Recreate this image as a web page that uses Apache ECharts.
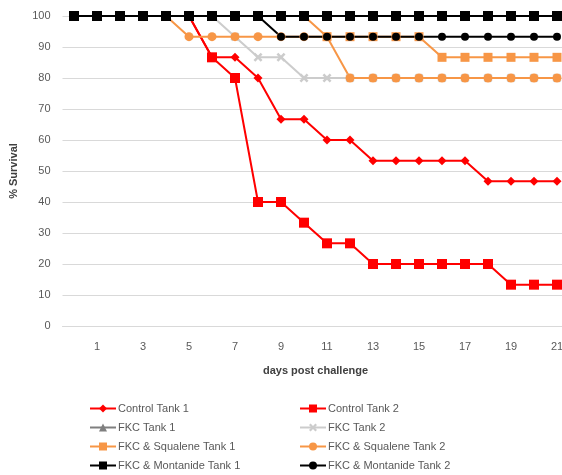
<!DOCTYPE html>
<html>
<head>
<meta charset="utf-8">
<script src="https://cdn.jsdelivr.net/npm/echarts@6/dist/echarts.min.js"></script>
<style>html,body{margin:0;padding:0;background:#fff}#c{width:562px;height:475px}</style>
</head>
<body>
<div id="c"></div>
<script>
const days = ['0','1','2','3','4','5','6','7','8','9','10','11','12','13','14','15','16','17','18','19','20','21'];
const yTicks = [0,10,20,30,40,50,60,70,80,90,100];
const controlTank1 = [100,100,100,100,100,100,86.67,86.67,80,66.67,66.67,60,60,53.33,53.33,53.33,53.33,53.33,46.67,46.67,46.67,46.67];
const controlTank2 = [100,100,100,100,100,100,86.67,80,40,40,33.33,26.67,26.67,20,20,20,20,20,20,13.33,13.33,13.33];
const fkcTank1 = [100,100,100,100,100,100,100,100,100,100,100,100,100,100,100,100,100,100,100,100,100,100];
const fkcTank2 = [100,100,100,100,100,100,100,93.33,86.67,86.67,80,80,80,80,80,80,80,80,80,80,80,80];
const squaleneTank1 = [100,100,100,100,100,100,100,100,100,100,100,93.33,93.33,93.33,93.33,93.33,86.67,86.67,86.67,86.67,86.67,86.67];
const squaleneTank2 = [100,100,100,100,100,93.33,93.33,93.33,93.33,93.33,93.33,93.33,80,80,80,80,80,80,80,80,80,80];
const montanideTank1 = [100,100,100,100,100,100,100,100,100,100,100,100,100,100,100,100,100,100,100,100,100,100];
const montanideTank2 = [100,100,100,100,100,100,100,100,100,93.33,93.33,93.33,93.33,93.33,93.33,93.33,93.33,93.33,93.33,93.33,93.33,93.33];
const names = ['Control Tank 1','Control Tank 2','FKC Tank 1','FKC Tank 2','FKC & Squalene Tank 1','FKC & Squalene Tank 2','FKC & Montanide Tank 1','FKC & Montanide Tank 2'];

const diamond = 'path://M5,0 L10,5 L5,10 L0,5 Z';
const cross = 'path://M0,2 L2,0 L5,3 L8,0 L10,2 L7,5 L10,8 L8,10 L5,7 L2,10 L0,8 L3,5 Z';
function mk(name, data, color, symbol, size) {
  return {
    name: name, type: 'line', data: data,
    symbol: symbol, symbolSize: size, showAllSymbol: true,
    lineStyle: { color: color, width: 2 },
    itemStyle: { color: color, borderWidth: 0 },
    emphasis: { disabled: true }
  };
}
const font = 'Liberation Sans';
const chart = echarts.init(document.getElementById('c'), null, { renderer: 'canvas' });
chart.setOption({
  animation: false,
  backgroundColor: '#ffffff',
  grid: { left: 62.5, right: -6.5, top: 16, bottom: 149, containLabel: false, outerBoundsMode: 'none' },
  xAxis: {
    type: 'category', data: days, boundaryGap: true,
    name: 'days post challenge', nameLocation: 'middle', nameGap: 39,
    nameTextStyle: { fontFamily: font, fontSize: 11, fontWeight: 'bold', color: '#404040' },
    axisLine: { show: true, lineStyle: { color: '#d9d9d9', width: 1 } },
    axisTick: { show: false },
    axisLabel: { interval: function (i) { return i % 2 === 1; }, margin: 15, fontFamily: font, fontSize: 11, color: '#595959' },
    splitLine: { show: false }
  },
  yAxis: {
    type: 'value', min: yTicks[0], max: yTicks[yTicks.length - 1], interval: 10,
    name: '% Survival', nameLocation: 'middle', nameGap: 43,
    nameTextStyle: { fontFamily: font, fontSize: 11, fontWeight: 'bold', color: '#404040' },
    axisLine: { show: false }, axisTick: { show: false },
    axisLabel: { margin: 12, fontFamily: font, fontSize: 11, color: '#595959' },
    splitLine: { lineStyle: { color: '#d9d9d9', width: 1 } }
  },
  legend: [
    { data: [names[0], names[2], names[4], names[6]], orient: 'vertical', left: 89, top: 403, padding: 0,
      itemWidth: 26, itemHeight: 10, itemGap: 8,
      textStyle: { fontFamily: font, fontSize: 11, color: '#595959', padding: [0,0,0,-3] } },
    { data: [names[1], names[3], names[5], names[7]], orient: 'vertical', left: 299, top: 403, padding: 0,
      itemWidth: 26, itemHeight: 10, itemGap: 8,
      textStyle: { fontFamily: font, fontSize: 11, color: '#595959', padding: [0,0,0,-3] } }
  ],
  series: [
    mk(names[0], controlTank1, '#ff0000', diamond, 9),
    mk(names[1], controlTank2, '#ff0000', 'rect', 10),
    mk(names[2], fkcTank1, '#7f7f7f', 'triangle', 9),
    mk(names[3], fkcTank2, '#cccccc', cross, 9),
    mk(names[4], squaleneTank1, '#f79646', 'rect', 9),
    mk(names[5], squaleneTank2, '#f79646', 'circle', 9),
    mk(names[6], montanideTank1, '#000000', 'rect', 10),
    mk(names[7], montanideTank2, '#000000', 'circle', 8)
  ]
});
</script>
</body>
</html>
